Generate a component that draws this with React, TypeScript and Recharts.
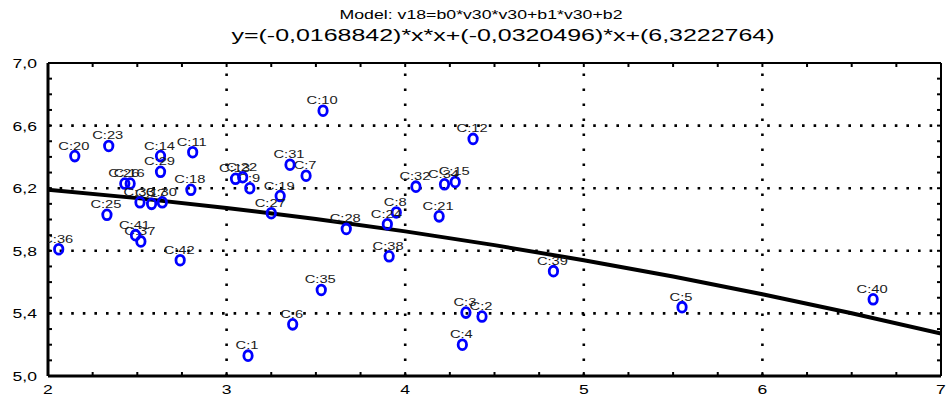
import React from 'react';
import { ScatterChart, Scatter, XAxis, YAxis, ReferenceLine } from 'recharts';

// case labels and values (v30 on x, v18 on y)
const caseIds = [
  'C:1', 'C:2', 'C:3', 'C:4', 'C:5', 'C:6', 'C:7', 'C:8', 'C:9', 'C:10',
  'C:11', 'C:12', 'C:13', 'C:14', 'C:15', 'C:16', 'C:17', 'C:18', 'C:19', 'C:20',
  'C:21', 'C:22', 'C:23', 'C:24', 'C:25', 'C:26', 'C:27', 'C:28', 'C:29', 'C:30',
  'C:31', 'C:32', 'C:33', 'C:34', 'C:35', 'C:36', 'C:37', 'C:38', 'C:39', 'C:40',
  'C:41', 'C:42',
];
const v30 = [
  3.12, 4.43, 4.34, 4.32, 5.55, 3.37, 3.445, 3.95, 3.13, 3.54,
  2.81, 4.38, 3.05, 2.63, 4.28, 2.46, 2.58, 2.8, 3.3, 2.15,
  4.19, 3.09, 2.34, 3.9, 2.33, 2.43, 3.25, 3.67, 2.63, 2.64,
  3.355, 4.06, 2.515, 4.22, 3.53, 2.06, 2.52, 3.91, 4.83, 6.62,
  2.49, 2.74,
];
const v18 = [
  5.13, 5.38, 5.405, 5.2, 5.44, 5.33, 6.28, 6.045, 6.2, 6.695,
  6.43, 6.515, 6.26, 6.405, 6.24, 6.23, 6.1, 6.19, 6.15, 6.405,
  6.02, 6.27, 6.47, 5.97, 6.03, 6.23, 6.04, 5.94, 6.305, 6.11,
  6.35, 6.21, 6.11, 6.225, 5.55, 5.81, 5.86, 5.765, 5.67, 5.49,
  5.9, 5.74,
];

// fitted model curve
const fitX = [2, 2.5, 3, 3.5, 4, 4.5, 5, 5.5, 6, 6.5, 7];
const fitY = [6.1907, 6.1366, 6.0742, 6.0033, 5.924, 5.8362, 5.7399, 5.6353, 5.5222, 5.4006, 5.2706];

const xTicks = [2, 2.25, 2.5, 2.75, 3, 3.25, 3.5, 3.75, 4, 4.25, 4.5, 4.75, 5, 5.25, 5.5, 5.75, 6, 6.25, 6.5, 6.75, 7];
const yTicks = [5, 5.1, 5.2, 5.3, 5.4, 5.5, 5.6, 5.7, 5.8, 5.9, 6, 6.1, 6.2, 6.3, 6.4, 6.5, 6.6, 6.7, 6.8, 6.9, 7];
const xLabels = [2, 3, 4, 5, 6, 7];
const yLabels = [5, 5.4, 5.8, 6.2, 6.6, 7];
const xGrid = [3, 4, 5, 6];
const yGrid = [5.4, 5.8, 6.2, 6.6];

const points = caseIds.map((name, i) => ({ name, x: v30[i], y: v18[i] }));
const fitLine = fitX.map((x, i) => ({ x, y: fitY[i] }));

const FONT = '"Liberation Sans", Arial, sans-serif';
const SX = 1.35; // text in the source is drawn wide

const isIn = (v: number, arr: number[]) => arr.some((a) => Math.abs(a - v) < 1e-6);
const fmt = (v: number, digits: number) => (digits ? v.toFixed(digits).replace('.', ',') : String(v));

function makeTick(side: 'left' | 'bottom' | 'top' | 'right', labels: number[]) {
  return (props: any) => {
    const { x, y, payload } = props;
    const v = payload.value;
    const len = 4;
    let tick;
    if (side === 'left') tick = <line x1={x} y1={y} x2={x + len} y2={y} stroke="#000" strokeWidth={2} />;
    else if (side === 'right') tick = <line x1={x} y1={y} x2={x - len} y2={y} stroke="#000" strokeWidth={2} />;
    else if (side === 'bottom') tick = <line x1={x} y1={y} x2={x} y2={y - len} stroke="#000" strokeWidth={2} />;
    else tick = <line x1={x} y1={y} x2={x} y2={y + len} stroke="#000" strokeWidth={2} />;
    let label = null;
    if (side === 'left' && isIn(v, labels)) {
      label = (
        <text transform={`translate(${x - 11},${y + 5}) scale(${SX},1)`} textAnchor="end" fontSize={13} fontFamily={FONT} fill="#000">
          {fmt(v, 1)}
        </text>
      );
    }
    if (side === 'bottom' && isIn(v, labels)) {
      label = (
        <text transform={`translate(${x},${y + 18}) scale(${SX},1)`} textAnchor="middle" fontSize={13} fontFamily={FONT} fill="#000">
          {fmt(v, 0)}
        </text>
      );
    }
    return (
      <g>
        {tick}
        {label}
      </g>
    );
  };
}

const CaseMarker = (props: any) => {
  const { cx, cy, payload } = props;
  return (
    <g>
      <ellipse cx={cx} cy={cy} rx={4.2} ry={4.9} fill="none" stroke="#0000ff" strokeWidth={2.8} />
      <text
        transform={`translate(${cx - 1},${cy - 6.5}) scale(1.28,1)`}
        textAnchor="middle"
        fontSize={11.5}
        fontFamily={FONT}
        fill="#1a1a1a"
      >
        {payload.name}
      </text>
    </g>
  );
};

const axisLine = { stroke: '#000', strokeWidth: 3 };
const thinLine = { stroke: '#000', strokeWidth: 2 };

export default function App() {
  return (
    <div style={{ position: 'absolute', left: 0, top: 0, width: 951, height: 396, background: '#fff' }}>
      <ScatterChart width={951} height={396} margin={{ top: 62, right: 9, bottom: 0, left: 0 }}>
        <XAxis
          xAxisId="main"
          type="number"
          dataKey="x"
          domain={[2, 7]}
          ticks={xTicks}
          interval={0}
          allowDataOverflow
          height={20}
          axisLine={axisLine}
          tickLine={false}
          tickSize={0}
          tickMargin={0}
          tick={makeTick('bottom', xLabels)}
        />
        <XAxis
          xAxisId="top"
          orientation="top"
          type="number"
          dataKey="x"
          domain={[2, 7]}
          ticks={xTicks}
          interval={0}
          allowDataOverflow
          height={1}
          axisLine={thinLine}
          tickLine={false}
          tickSize={0}
          tickMargin={0}
          tick={makeTick('top', [])}
        />
        <YAxis
          yAxisId="main"
          type="number"
          dataKey="y"
          domain={[5, 7]}
          ticks={yTicks}
          interval={0}
          allowDataOverflow
          width={48}
          axisLine={axisLine}
          tickLine={false}
          tickSize={0}
          tickMargin={0}
          tick={makeTick('left', yLabels)}
        />
        <YAxis
          yAxisId="right"
          orientation="right"
          type="number"
          dataKey="y"
          domain={[5, 7]}
          ticks={yTicks}
          interval={0}
          allowDataOverflow
          width={1}
          axisLine={thinLine}
          tickLine={false}
          tickSize={0}
          tickMargin={0}
          tick={makeTick('right', [])}
        />
        {yGrid.map((v) => (
          <ReferenceLine
            key={`h${v}`}
            xAxisId="main"
            yAxisId="main"
            y={v}
            stroke="#000"
            strokeWidth={2.6}
            strokeDasharray="2.6 9"
          />
        ))}
        {xGrid.map((v) => (
          <ReferenceLine
            key={`v${v}`}
            xAxisId="main"
            yAxisId="main"
            x={v}
            stroke="#000"
            strokeWidth={2.6}
            strokeDasharray="2.6 12.4"
          />
        ))}
        <Scatter
          xAxisId="main"
          yAxisId="main"
          data={fitLine}
          line={{ stroke: '#000', strokeWidth: 4 }}
          lineType="joint"
          shape={() => <g />}
          isAnimationActive={false}
        />
        <Scatter
          xAxisId="main"
          yAxisId="main"
          data={points}
          shape={CaseMarker}
          isAnimationActive={false}
        />
      </ScatterChart>
      <svg width={951} height={396} style={{ position: 'absolute', left: 0, top: 0, pointerEvents: 'none' }}>
        <text x={481} y={19} textAnchor="middle" fontSize={13} fontFamily={FONT} fill="#000" textLength={283} lengthAdjust="spacingAndGlyphs">
          Model: v18=b0*v30*v30+b1*v30+b2
        </text>
        <text x={503} y={41} textAnchor="middle" fontSize={17} fontFamily={FONT} fill="#000" textLength={543} lengthAdjust="spacingAndGlyphs">
          y=(-0,0168842)*x*x+(-0,0320496)*x+(6,3222764)
        </text>
      </svg>
    </div>
  );
}
